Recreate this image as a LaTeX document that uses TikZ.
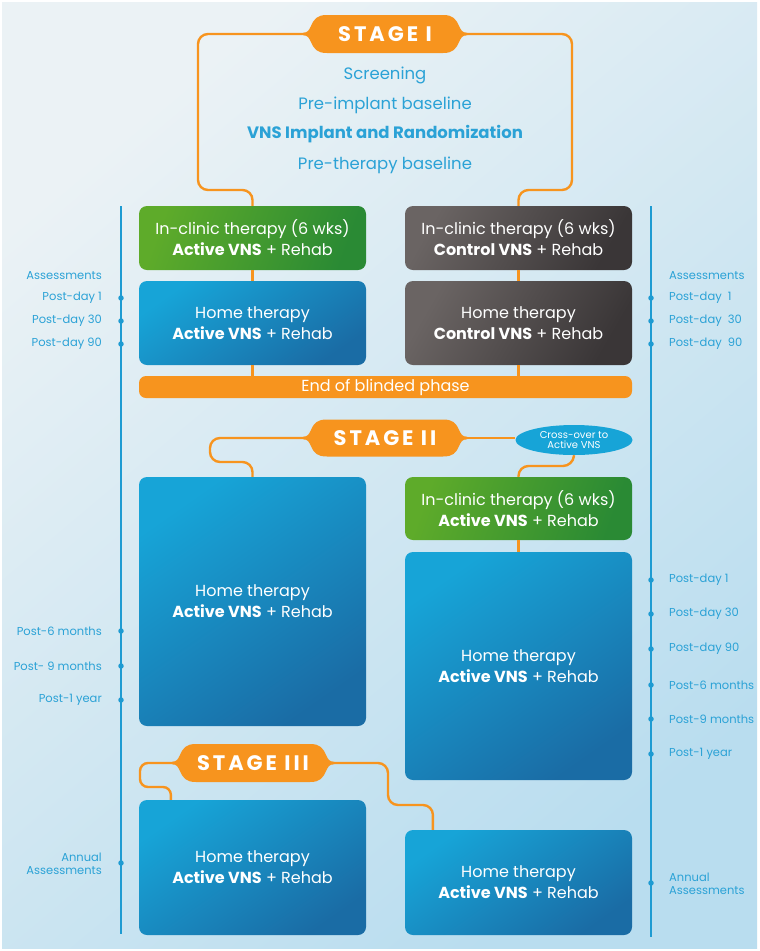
\documentclass[tikz,border=0pt]{standalone}
\usepackage{fontspec}
\setmainfont{Poppins}
\usetikzlibrary{shapes.geometric,calc}
\definecolor{vorange}{HTML}{F7941E}
\definecolor{vgreenA}{HTML}{5EAB2A}
\definecolor{vgreenB}{HTML}{2A8A34}
\definecolor{vgrayA}{HTML}{6A6463}
\definecolor{vgrayB}{HTML}{3A3637}
\definecolor{vblueA}{HTML}{17A4D7}
\definecolor{vblueB}{HTML}{1A6CA5}
\definecolor{vtext}{HTML}{2BA2D6}
\definecolor{vline}{HTML}{1E9BD2}
\definecolor{bgA}{HTML}{EBF2F5}
\definecolor{bgB}{HTML}{B9DDEF}
% pill outline around a node centre: #1 = half width (tip to centre), #2 = half height
\newcommand\vnspill[3]{%
  \fill[vorange, shift={(#1.center)}]
    (-#2,-1.3) .. controls (-#2+5,-1.3) and (-#2+6,-4) .. (-#2+8,-8)
    .. controls (-#2+11,-15) and (-#2+14,-#3) .. (-#2+24,-#3)
    -- (#2-24,-#3)
    .. controls (#2-14,-#3) and (#2-11,-15) .. (#2-8,-8)
    .. controls (#2-6,-4) and (#2-5,-1.3) .. (#2,-1.3)
    -- (#2,1.3)
    .. controls (#2-5,1.3) and (#2-6,4) .. (#2-8,8)
    .. controls (#2-11,15) and (#2-14,#3) .. (#2-24,#3)
    -- (-#2+24,#3)
    .. controls (-#2+14,#3) and (-#2+11,15) .. (-#2+8,8)
    .. controls (-#2+6,4) and (-#2+5,1.3) .. (-#2,1.3) -- cycle;}
\begin{document}
\begin{tikzpicture}[x=1pt,y=-1pt,
  box/.style={rounded corners=8pt, minimum width=227pt, align=center, text=white,
    font=\fontsize{16}{21}\selectfont, inner sep=0pt},
  greenbox/.style={box, top color=vgreenA, bottom color=vgreenB, shading angle=70},
  graybox/.style={box, top color=vgrayA, bottom color=vgrayB, shading angle=60},
  bluebox/.style={box, top color=vblueA, bottom color=vblueB, shading angle=35},
  stagegeom/.style={minimum width=164pt, minimum height=37pt, inner sep=0pt},
  stagetxt/.style={text=white, font=\fontsize{21}{21}\selectfont\bfseries\addfontfeatures{LetterSpace=14}, inner sep=0pt},
  oline/.style={draw=vorange, line width=2.4pt, rounded corners=10pt},
  infotxt/.style={text=vtext, font=\fontsize{16.5}{18}\selectfont, inner sep=0pt},
  tline/.style={draw=vline, line width=1.6pt},
  tdot/.style={circle, fill=vline, minimum size=5.5pt, inner sep=0pt},
  tlabel/.style={text=vtext, font=\fontsize{11.5}{13.5}\selectfont, inner sep=0pt}
]
\useasboundingbox (0,0) rectangle (760,951);
\fill[white] (0,0) rectangle (760,951);
\shade[top color=bgA, bottom color=bgB, shading angle=40] (2,2) rectangle (757,948);

% ---------- Stage I ----------
\node[stagegeom, minimum height=38pt] (s1) at (385,34) {};
\vnspill{s1}{82}{19}
\node[stagetxt] (s1t) at (s1) {STAGE I};

\node[infotxt] (i1) at (385,75) {Screening};
\node[infotxt] (i2) at (385,105) {Pre-implant baseline};
\node[infotxt, font=\fontsize{16.5}{18}\selectfont\bfseries] (i3) at (385,134) {VNS Implant and Randomization};
\node[infotxt] (i4) at (385,165) {Pre-therapy baseline};

% ---------- Blinded phase ----------
\node[greenbox, minimum height=64pt] (g1) at (252.5,238) {In-clinic therapy (6 wks)\\\textbf{Active VNS} + Rehab};
\node[graybox, minimum height=64pt] (c1) at (518.5,238) {In-clinic therapy (6 wks)\\\textbf{Control VNS} + Rehab};
\node[bluebox, minimum height=84pt] (h1) at (252.5,323) {Home therapy\\\textbf{Active VNS} + Rehab};
\node[graybox, minimum height=84pt] (hc1) at (518.5,323) {Home therapy\\\textbf{Control VNS} + Rehab};
\node[box, fill=vorange, minimum width=493pt, minimum height=22pt, rounded corners=7pt] (endb) at (385.5,387) {End of blinded phase};

\draw[oline] (s1.west) -- (198,34) -- (198,190) -- (252.5,190) -- (g1.north);
\draw[oline] (s1.east) -- (572,34) -- (572,190) -- (518.5,190) -- (c1.north);
\draw[oline] (g1.south) -- (h1.north);
\draw[oline] (c1.south) -- (hc1.north);
\draw[oline] (h1.south) -- (h1.south |- endb.north);
\draw[oline] (hc1.south) -- (hc1.south |- endb.north);

% ---------- Stage II ----------
\node[stagegeom] (s2) at (385,438) {};
\vnspill{s2}{82}{18.5}
\node[stagetxt] (s2t) at (s2) {STAGE II};
\node[ellipse, fill=vblueA, text=white, font=\fontsize{10}{10.5}\selectfont, minimum width=117pt,
  minimum height=30pt, inner sep=0pt, align=center] (cross) at (574,440) {Cross-over to\\Active VNS};

\node[bluebox, minimum height=249pt] (h2) at (252.5,601.5) {Home therapy\\\textbf{Active VNS} + Rehab};
\node[greenbox, minimum height=63pt] (g2) at (518.5,508.5) {In-clinic therapy (6 wks)\\\textbf{Active VNS} + Rehab};
\node[bluebox, minimum height=228pt] (h2r) at (518.5,666) {Home therapy\\\textbf{Active VNS} + Rehab};

\draw[oline] (s2.west) -- (210,438) -- (210,462) -- (252.5,462) -- (h2.north);
\draw[oline] (s2.east) -- (s2.east -| cross.west);
\draw[oline] (cross.south) -- (573,466) -- (518.5,466) -- (g2.north);
\draw[oline] (g2.south) -- (h2r.north);

% ---------- Stage III ----------
\node[stagegeom, minimum width=162pt, minimum height=38pt] (s3) at (253,763) {};
\vnspill{s3}{81}{19}
\node[stagetxt] (s3t) at (s3) {STAGE III};

\node[bluebox, minimum height=135pt] (h3) at (252.5,867.5) {Home therapy\\\textbf{Active VNS} + Rehab};
\node[bluebox, minimum height=105pt] (h3r) at (518.5,882.5) {Home therapy\\\textbf{Active VNS} + Rehab};

\draw[oline, rounded corners=8pt] (s3.west) -- (140,763) -- (140,787) -- (171,787) -- ([xshift=32pt]h3.north west);
\draw[oline] (s3.east) -- (388,763) -- (388,805) -- (433,805) -- ([xshift=28pt]h3r.north west);

% ---------- Left timeline ----------
\coordinate (ltop) at (121,206);
\coordinate (lbot) at (121,934);
\draw[tline] (ltop) -- (lbot);
\node[tlabel, anchor=east] (la0) at (102,276) {Assessments};
\foreach \n/\y/\t in {1/298/{Post-day 1}, 2/321/{Post-day 30}, 3/344/{Post-day 90},
   4/631/{Post-6 months}, 5/666/{Post- 9 months}, 6/700/{Post-1 year}} {
  \node[tdot] (ld\n) at (121,\y) {};
  \node[tlabel, anchor=east] (ll\n) at (102,\y) {\t};
}
\node[tdot] (ld7) at (121,863) {};
\node[tlabel, anchor=east, align=right] (ll7) at (102,864) {Annual\\Assessments};

% ---------- Right timeline ----------
\coordinate (rtop) at (651,206);
\coordinate (rbot) at (651,937);
\draw[tline] (rtop) -- (rbot);
\node[tlabel, anchor=west] (ra0) at (669,276) {Assessments};
\foreach \n/\y/\t in {1/298/{Post-day\ \ 1}, 2/321/{Post-day\ \ 30}, 3/344/{Post-day\ \ 90},
   4/580/{Post-day 1}, 5/614/{Post-day 30}, 6/649/{Post-day 90},
   7/685/{Post-6 months}, 8/719/{Post-9 months}, 9/754/{Post-1 year}} {
  \node[tdot] (rd\n) at (651,\y) {};
  \node[tlabel, anchor=west] (rl\n) at (669,\y) {\t};
}
\node[tdot] (rd10) at (651,883) {};
\node[tlabel, anchor=west, align=left] (rl10) at (669,884) {Annual\\Assessments};
\end{tikzpicture}
\end{document}
